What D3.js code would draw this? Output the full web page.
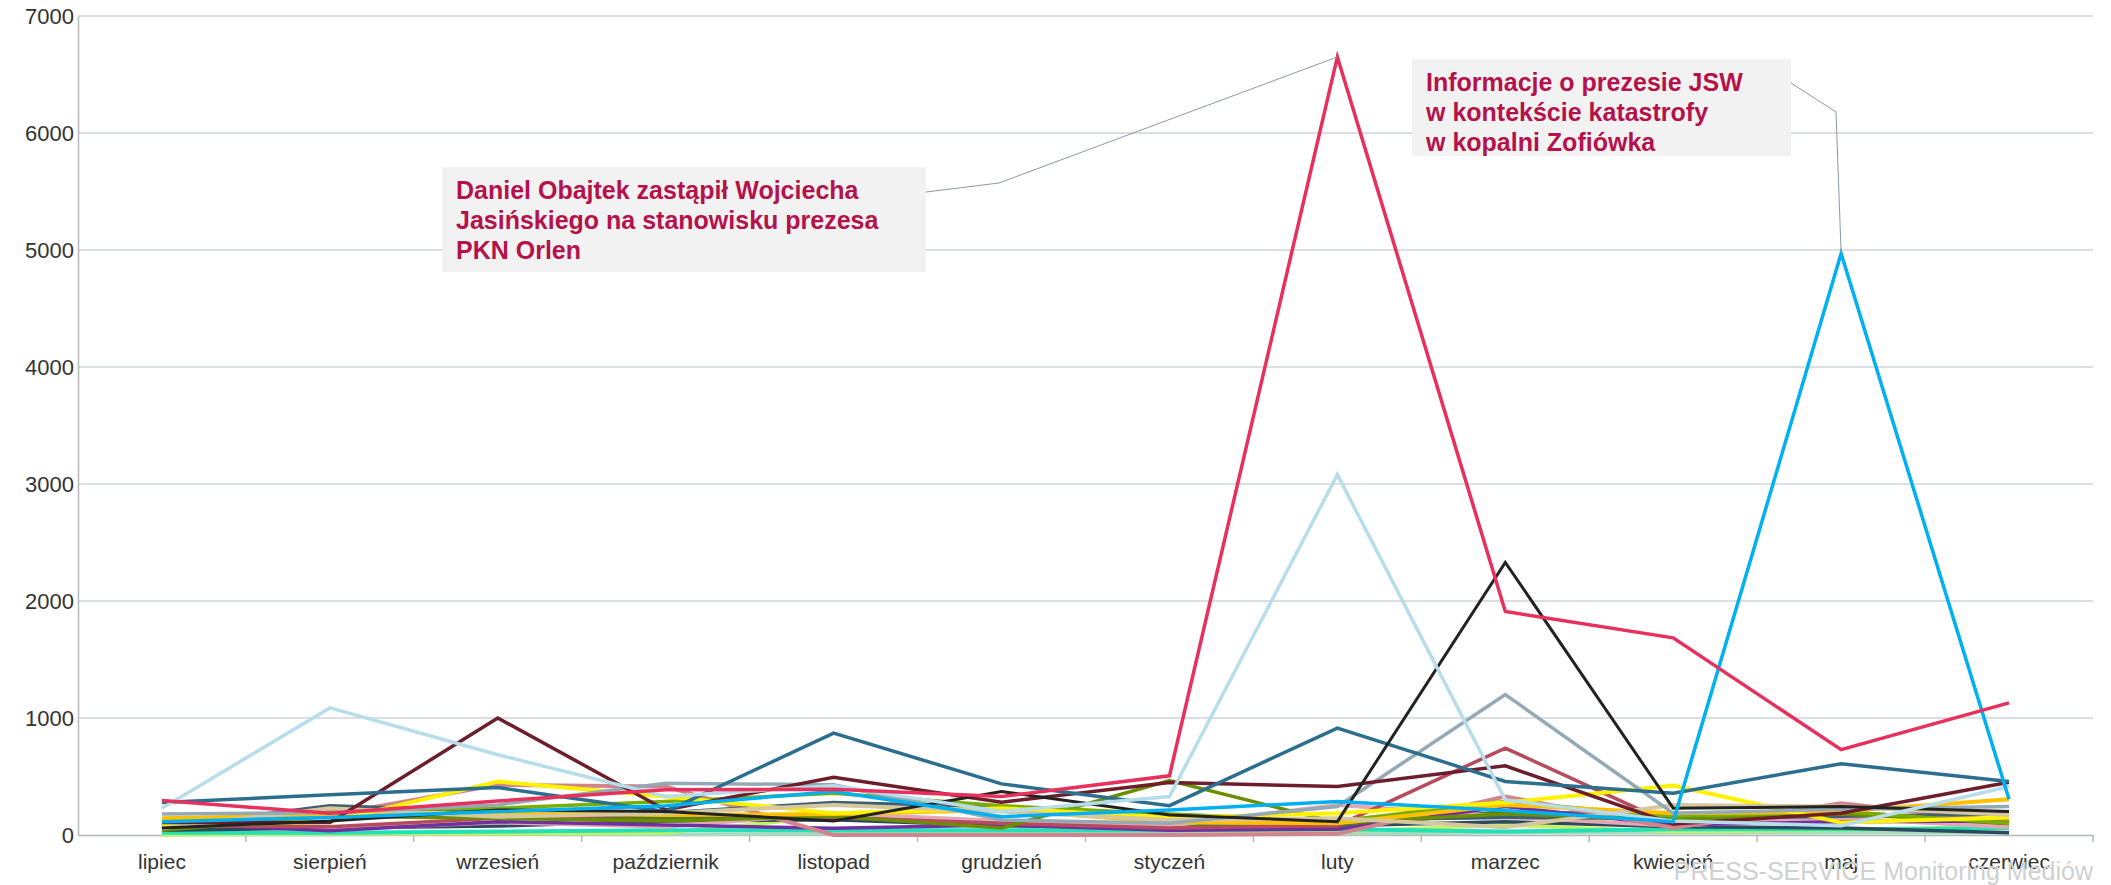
<!DOCTYPE html>
<html>
<head>
<meta charset="utf-8">
<script src="https://cdn.jsdelivr.net/npm/d3@7"></script>
<style>
  body { margin: 0; background: #fff; }
  svg text { font-family: "Liberation Sans", Arial, sans-serif; }
</style>
</head>
<body>
<svg id="svg1"></svg>
<script>
// months on the x axis
const months = ["lipiec", "sierpień", "wrzesień", "październik", "listopad", "grudzień",
                "styczeń", "luty", "marzec", "kwiecień", "maj", "czerwiec"];
const yTicks = [0, 1000, 2000, 3000, 4000, 5000, 6000, 7000];

// one array per line
const paleGreen  = [5, 5, 10, 5, 10, 10, 10, 10, 20, 20, 20, 20];
const lime       = [0, 10, 10, 20, 157, 71, 40, 30, 86, 30, 40, 77];
const teal       = [20, 20, 29, 40, 40, 40, 40, 50, 29, 50, 50, 57];
const darkSlate  = [40, 60, 77, 120, 130, 80, 60, 80, 114, 70, 60, 20];
const darkGreen  = [50, 190, 143, 150, 160, 120, 80, 70, 200, 170, 200, 80];
const lightPink  = [120, 50, 106, 71, 186, 120, 80, 257, 157, 80, 143, 66];
const purple     = [100, 37, 114, 86, 57, 86, 40, 50, 243, 86, 114, 120];
const brickRed   = [80, 71, 143, 180, 150, 100, 60, 80, 743, 86, 200, 100];
const rose       = [100, 171, 429, 414, 0, 0, 0, 10, 329, 60, 271, 114];
const slate      = [70, 251, 200, 190, 277, 240, 140, 130, 150, 140, 160, 180];
const oliveB     = [40, 160, 143, 120, 160, 60, 466, 106, 180, 129, 180, 106];
const greenA     = [60, 209, 229, 286, 357, 250, 180, 120, 286, 160, 200, 100];
const gold       = [143, 171, 191, 171, 180, 214, 110, 100, 257, 186, 200, 306];
const yellow     = [80, 114, 457, 329, 186, 229, 150, 186, 277, 423, 106, 150];
const tan        = [57, 229, 157, 186, 257, 200, 129, 143, 66, 257, 243, 171];
const grayBlue   = [180, 190, 257, 443, 429, 129, 100, 243, 1200, 186, 220, 243];
const maroon     = [106, 106, 1000, 214, 494, 280, 449, 414, 591, 94, 186, 451];
const steelBlue  = [277, 343, 406, 200, 871, 437, 251, 914, 457, 357, 609, 457];
const black      = [60, 120, 214, 200, 120, 371, 171, 114, 2330, 229, 243, 200];
const lightBlue  = [229, 1086, 686, 330, 420, 200, 329, 3080, 300, 120, 80, 414];
const skyBlue    = [114, 150, 200, 251, 371, 157, 214, 286, 209, 114, 4970, 306];
const red        = [294, 186, 291, 386, 391, 329, 506, 6650, 1910, 1685, 729, 1129];

const series = [
  {values: paleGreen, color: "#a9d9be", w: 3.5},
  {values: lime, color: "#c6f25a", w: 3.5},
  {values: teal, color: "#22e0b8", w: 4},
  {values: darkSlate, color: "#2b4a5e", w: 3.5},
  {values: darkGreen, color: "#4e7a2a", w: 3.5},
  {values: lightPink, color: "#e3a8b4", w: 4},
  {values: purple, color: "#7030a0", w: 3.5},
  {values: brickRed, color: "#b84a5e", w: 3.5},
  {values: rose, color: "#d1848c", w: 4},
  {values: slate, color: "#3f5f6f", w: 3.5},
  {values: oliveB, color: "#6b8e00", w: 3.5},
  {values: greenA, color: "#7aae00", w: 3.5},
  {values: gold, color: "#ffc000", w: 4},
  {values: yellow, color: "#fff200", w: 4},
  {values: tan, color: "#d5c8a0", w: 4},
  {values: grayBlue, color: "#93aab6", w: 3.5},
  {values: maroon, color: "#6e1e2b", w: 3.5},
  {values: steelBlue, color: "#2c6e8f", w: 3.5},
  {values: black, color: "#222222", w: 3},
  {values: lightBlue, color: "#b7ddeb", w: 3.5},
  {values: skyBlue, color: "#00b0f0", w: 3.5},
  {values: red, color: "#e8305c", w: 3.5}
];

// annotations
const notes = [
  {lines: ["Daniel Obajtek zastąpił Wojciecha", "Jasińskiego na stanowisku prezesa", "PKN Orlen"],
   month: "luty", values: red},
  {lines: ["Informacje o prezesie JSW", "w kontekście katastrofy", "w kopalni Zofiówka"],
   month: "maj", values: skyBlue}
];

const width = 2111;
const height = 885;
const margin = {top: 16, right: 18, bottom: 50, left: 78};

const svg = d3.select('#svg1')
    .attr('width', width)
    .attr('height', height);

const x = d3.scaleBand()
    .domain(months)
    .range([margin.left, width - margin.right]);

const y = d3.scaleLinear()
    .domain([0, 7000])
    .range([height - margin.bottom, margin.top]);

const cx = m => x(m) + x.bandwidth() / 2;

// gridlines
svg.append("g")
    .selectAll("line")
    .data(yTicks.slice(1))
    .enter()
    .append("line")
    .attr("x1", margin.left)
    .attr("x2", width - margin.right)
    .attr("y1", d => y(d))
    .attr("y2", d => y(d))
    .attr("stroke", "#d0d5d8")
    .attr("stroke-width", 1.5);

// Y axis
const yAxis = svg.append("g")
    .attr("transform", "translate(" + margin.left + ",0)")
    .call(d3.axisLeft(y).tickValues(yTicks).tickFormat(d3.format("d")).tickSize(0).tickPadding(4));
yAxis.select(".domain").attr("stroke", "#b4b9bc").attr("stroke-width", 1.5);
yAxis.selectAll("text")
    .style("font-size", "22px")
    .attr("fill", "#333");

// X axis
const xAxis = svg.append("g")
    .attr("transform", "translate(0," + y(0) + ")")
    .call(d3.axisBottom(x).tickSize(0).tickPadding(19));
xAxis.select(".domain").attr("stroke", "#b4b9bc").attr("stroke-width", 1.5);
xAxis.selectAll("text")
    .style("font-size", "21px")
    .attr("fill", "#333");
// tick marks between months
xAxis.selectAll(".sep")
    .data(months.map(m => x(m)).concat([x.range()[1]]).slice(1))
    .enter()
    .append("line")
    .attr("class", "sep")
    .attr("x1", d => d)
    .attr("x2", d => d)
    .attr("y1", 0)
    .attr("y2", 7)
    .attr("stroke", "#b4b9bc")
    .attr("stroke-width", 1.5);

// watermark
svg.append("text")
    .attr("x", width - margin.right)
    .attr("y", 880)
    .attr("text-anchor", "end")
    .style("font-size", "25px")
    .attr("fill", "#d0d0d0")
    .text("PRESS-SERVICE Monitoring Mediów");

// lines
const line = d3.line()
    .x((d, i) => cx(months[i]))
    .y(d => y(d));

svg.append("g")
    .selectAll("path")
    .data(series)
    .enter()
    .append("path")
    .attr("d", d => line(d.values))
    .attr("fill", "none")
    .attr("stroke", d => d.color)
    .attr("stroke-width", d => d.w)
    .attr("stroke-linejoin", "miter");

// annotation boxes, placed by hand like in the original
const boxes = [
  {x: 442, y: 167, w: 484, h: 105, elbow: [999, 183], from: [926, 192]},
  {x: 1412, y: 59, w: 379, h: 97, elbow: [1836, 112], from: [1791, 83]}
];

notes.forEach(function(n, k) {
  const b = boxes[k];
  const target = [cx(n.month), y(n.values[months.indexOf(n.month)])];
  svg.append("path")
      .attr("d", d3.line()([b.from, b.elbow, target]))
      .attr("fill", "none")
      .attr("stroke", "#8c97a8")
      .attr("stroke-width", 1);
  svg.append("rect")
      .attr("x", b.x)
      .attr("y", b.y)
      .attr("width", b.w)
      .attr("height", b.h)
      .attr("fill", "#f2f2f2");
  svg.append("text")
      .attr("x", b.x + 14)
      .attr("y", b.y + 32)
      .style("font-size", "25px")
      .style("font-weight", "bold")
      .attr("fill", "#b5124b")
      .selectAll("tspan")
      .data(n.lines)
      .enter()
      .append("tspan")
      .attr("x", b.x + 14)
      .attr("dy", (d, i) => i == 0 ? 0 : 30)
      .text(d => d);
});
</script>
</body>
</html>
